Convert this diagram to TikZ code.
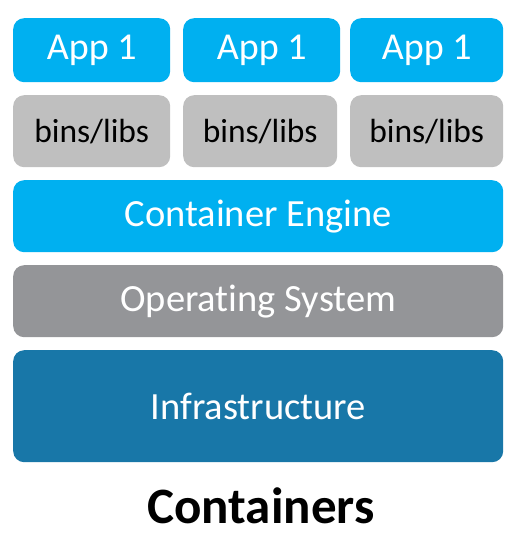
\documentclass[tikz,border=0pt]{standalone}
\usepackage{fontspec}
\setmainfont{Carlito}[Ligatures=NoCommon]
\usepackage{tikz}
\usetikzlibrary{positioning}
\definecolor{appblue}{RGB}{0,176,240}
\definecolor{libgray}{RGB}{191,191,191}
\definecolor{osgray}{RGB}{148,149,152}
\definecolor{infrablue}{RGB}{24,119,168}
\begin{document}
\begin{tikzpicture}[
x=1pt,y=-1pt,
layer/.style={
  draw=none,
  rounded corners=11pt,
  inner sep=0pt,
  anchor=north west
  },
app/.style={
  layer,
  fill=appblue,
  text=white,
  font=\fontsize{38}{44}\selectfont
  },
lib/.style={
  layer,
  fill=libgray,
  text=black,
  font=\fontsize{33.5}{40}\selectfont
  },
tier/.style={
  layer,
  text=white,
  font=\fontsize{38.5}{44}\selectfont,
  minimum width=490pt
  }
]
\useasboundingbox (0,0) rectangle (519,536);
% top row: apps and libraries
\node[app, minimum width=157pt, minimum height=64pt] (app1) at (13,18) {App 1};
\node[app, minimum width=157pt, minimum height=64pt] (app2) at (183,18) {App 1};
\node[app, minimum width=153pt, minimum height=64pt] (app3) at (350,18) {App 1};
\node[lib, minimum width=157pt, minimum height=72pt] (lib1) at (13,95) {bins/libs};
\node[lib, minimum width=154pt, minimum height=72pt] (lib2) at (183,95) {bins/libs};
\node[lib, minimum width=153pt, minimum height=72pt] (lib3) at (350,95) {bins/libs};
% shared layers
\node[tier, fill=appblue, minimum height=72pt] (engine) at (13,180) {Container Engine};
\node[tier, fill=osgray, minimum height=72pt] (os) at (13,265) {Operating System};
\node[tier, fill=infrablue, minimum height=112pt] (infra) at (13,350) {Infrastructure};
\node[font=\bfseries\fontsize{51}{58}\selectfont] (title) at (261,506) {Containers};
\end{tikzpicture}
\end{document}
